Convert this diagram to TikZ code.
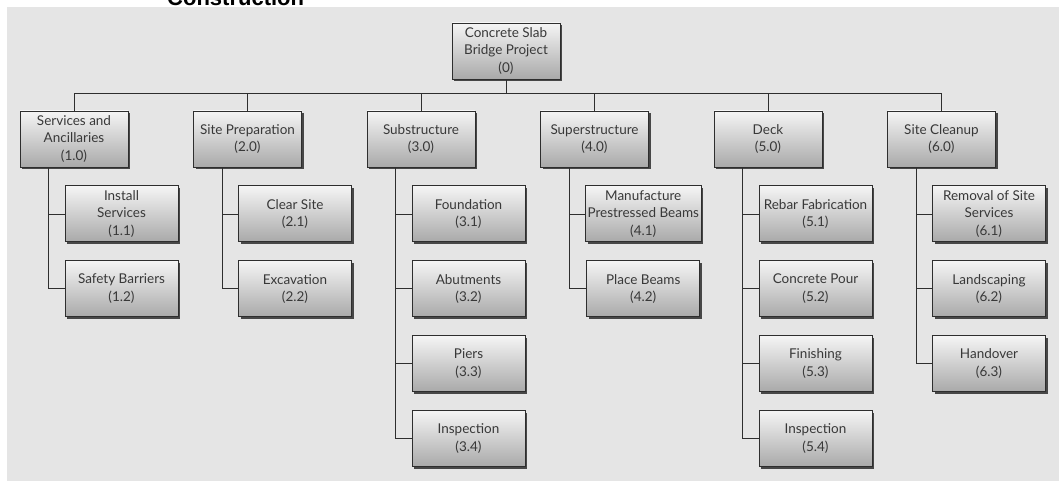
\documentclass[tikz,border=0pt]{standalone}
\usepackage{fontspec}
\setmainfont{Lato}
\newfontfamily\titlefont{Liberation Sans}
\usepackage{tikz}
\usetikzlibrary{positioning,shadows}
\definecolor{bg}{HTML}{E5E5E5}
\definecolor{ink}{HTML}{383838}
\definecolor{edge}{HTML}{2E2E2E}
\definecolor{shade}{HTML}{A9A9A9}
\tikzset{
  wbs/.style={draw=edge,line width=0.9pt,top color=white!96!black,bottom color=shade,
    align=center,inner sep=2pt,minimum height=56pt,text=ink,
    font=\fontsize{13.5}{17.5}\selectfont,
    drop shadow={shadow xshift=2.2pt,shadow yshift=-2.2pt,opacity=1,fill=black!72}},
  top/.style={wbs,minimum width=108pt},
  sub/.style={wbs,minimum width=113pt},
  link/.style={draw=edge,line width=0.8pt},
  ttl/.style={font=\titlefont\bfseries\fontsize{22}{24}\selectfont,inner sep=0pt},
}
\begin{document}
\begin{tikzpicture}[x=1pt,y=-1pt,node distance=18pt]
\useasboundingbox (0,0) rectangle (1059,481);
\fill[bg] (7,7) rectangle (1059,481);
\node[ttl,anchor=base west] (title) at (167,6) {Construction};

% level 0 and 1
\node[top] (root) at (506,51) {Concrete Slab\\Bridge Project\\(0)};
\node[top] (svc) at (74,139) {Services and\\Ancillaries\\(1.0)};
\node[top,right=64.6pt of svc] (prep) {Site Preparation\\(2.0)};
\node[top,right=64.6pt of prep] (subs) {Substructure\\(3.0)};
\node[top,right=64.6pt of subs] (sups) {Superstructure\\(4.0)};
\node[top,right=64.6pt of sups] (deck) {Deck\\(5.0)};
\node[top,right=64.6pt of deck] (clean) {Site Cleanup\\(6.0)};
\coordinate (bus) at (0,93);

% level 2
\node[sub,below right=18pt and 45pt of svc.south west] (svc1) {Install\\Services\\(1.1)};
\node[sub,below=of svc1] (svc2) {Safety Barriers\\(1.2)};
\node[sub,below right=18pt and 45pt of prep.south west] (prep1) {Clear Site\\(2.1)};
\node[sub,below=of prep1] (prep2) {Excavation\\(2.2)};
\node[sub,below right=18pt and 45pt of subs.south west] (subs1) {Foundation\\(3.1)};
\node[sub,below=of subs1] (subs2) {Abutments\\(3.2)};
\node[sub,below=of subs2] (subs3) {Piers\\(3.3)};
\node[sub,below=of subs3] (subs4) {Inspection\\(3.4)};
\node[sub,below right=18pt and 45pt of sups.south west] (sups1) {Manufacture\\Prestressed Beams\\(4.1)};
\node[sub,below=of sups1] (sups2) {Place Beams\\(4.2)};
\node[sub,below right=18pt and 45pt of deck.south west] (deck1) {Rebar Fabrication\\(5.1)};
\node[sub,below=of deck1] (deck2) {Concrete Pour\\(5.2)};
\node[sub,below=of deck2] (deck3) {Finishing\\(5.3)};
\node[sub,below=of deck3] (deck4) {Inspection\\(5.4)};
\node[sub,below right=18pt and 45pt of clean.south west] (clean1) {Removal of Site\\Services\\(6.1)};
\node[sub,below=of clean1] (clean2) {Landscaping\\(6.2)};
\node[sub,below=of clean2] (clean3) {Handover\\(6.3)};

% connectors
\draw[link] (root.south) -- (root.south |- bus);
\draw[link] (svc.north |- bus) -- (clean.north |- bus);
\foreach \n in {svc,prep,subs,sups,deck,clean}
  \draw[link] (\n.north) -- (\n.north |- bus);
\foreach \p/\c in {svc/svc1,svc/svc2,prep/prep1,prep/prep2,subs/subs1,subs/subs2,subs/subs3,subs/subs4,
  sups/sups1,sups/sups2,deck/deck1,deck/deck2,deck/deck3,deck/deck4,clean/clean1,clean/clean2,clean/clean3}
  \draw[link] ([xshift=29pt]\p.south west) |- (\c.west);
\end{tikzpicture}
\end{document}
